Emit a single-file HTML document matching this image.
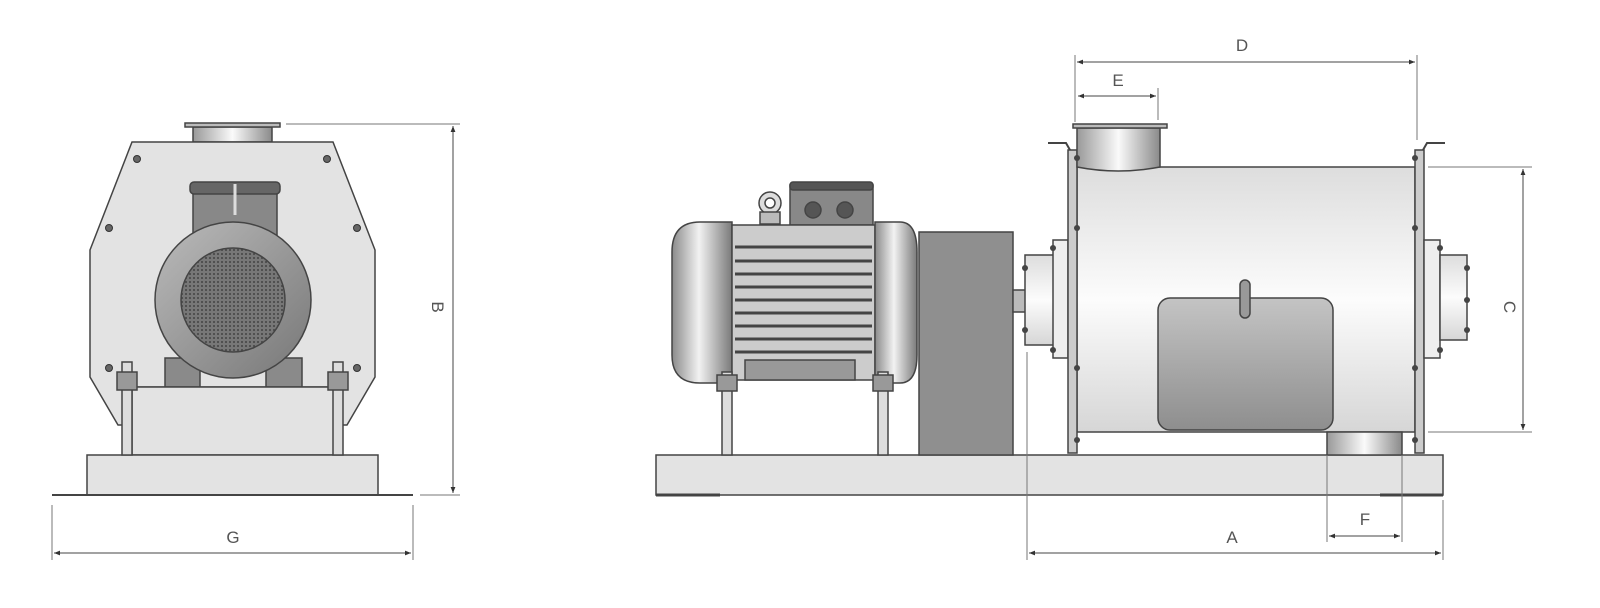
<!DOCTYPE html>
<html><head><meta charset="utf-8"><style>
html,body{margin:0;padding:0;background:#fff;width:1600px;height:608px;overflow:hidden}
text{font-family:"Liberation Sans",sans-serif;fill:#555;font-size:17px}
</style></head><body>
<svg width="1600" height="608" viewBox="0 0 1600 608" xmlns="http://www.w3.org/2000/svg">
<defs>
<linearGradient id="cyl" x1="0" y1="0" x2="1" y2="0">
<stop offset="0" stop-color="#999"/><stop offset="0.5" stop-color="#fafafa"/><stop offset="1" stop-color="#8a8a8a"/></linearGradient>
<linearGradient id="vert" x1="0" y1="0" x2="0" y2="1">
<stop offset="0" stop-color="#ddd"/><stop offset="0.5" stop-color="#fcfcfc"/><stop offset="1" stop-color="#d6d6d6"/></linearGradient>
<linearGradient id="cap" x1="0" y1="0" x2="1" y2="0">
<stop offset="0" stop-color="#8a8a8a"/><stop offset="0.45" stop-color="#f2f2f2"/><stop offset="1" stop-color="#7a7a7a"/></linearGradient>
<linearGradient id="box" x1="0" y1="0" x2="0" y2="1">
<stop offset="0" stop-color="#c4c4c4"/><stop offset="1" stop-color="#8e8e8e"/></linearGradient>
<linearGradient id="ring" x1="0" y1="0" x2="1" y2="1">
<stop offset="0" stop-color="#bbb"/><stop offset="1" stop-color="#777"/></linearGradient>
<pattern id="grid" width="4" height="4" patternUnits="userSpaceOnUse">
<rect width="4" height="4" fill="#777"/><circle cx="2" cy="2" r="1" fill="#444"/></pattern>
<marker id="ar" viewBox="0 0 10 10" refX="10" refY="5" markerWidth="8" markerHeight="6" orient="auto-start-reverse">
<path d="M0,1 L10,5 L0,9 z" fill="#333"/></marker>
</defs>

<!-- ========== LEFT VIEW ========== -->
<g stroke="#444" stroke-width="1.5">
<!-- flange -->
<rect x="193" y="127" width="79" height="15" fill="url(#cyl)"/>
<rect x="185" y="123" width="95" height="4" fill="#bbb"/>
<!-- housing -->
<polygon points="132,142 333,142 375,250 375,377 347,425 118,425 90,377 90,250" fill="#e3e3e3"/>
<line x1="118" y1="387" x2="347" y2="387"/>
<!-- terminal box -->
<rect x="193" y="185" width="84" height="60" fill="#888"/>
<rect x="190" y="182" width="90" height="12" rx="4" fill="#666"/>
<line x1="235" y1="184" x2="235" y2="215" stroke="#ddd" stroke-width="3"/>
<!-- feet -->
<rect x="165" y="358" width="35" height="29" fill="#8a8a8a"/>
<rect x="266" y="358" width="36" height="29" fill="#8a8a8a"/>
<!-- motor -->
<circle cx="233" cy="300" r="78" fill="url(#ring)"/>
<circle cx="233" cy="300" r="52" fill="url(#grid)"/>
<!-- inner box -->
<rect x="132" y="387" width="203" height="68" fill="#e3e3e3"/>
<!-- base -->
<rect x="87" y="455" width="291" height="40" fill="#e3e3e3"/>
<line x1="52" y1="495" x2="413" y2="495" stroke-width="2"/>
<!-- bolts -->
<rect x="122" y="362" width="10" height="93" fill="#ddd"/>
<rect x="333" y="362" width="10" height="93" fill="#ddd"/>
<rect x="117" y="372" width="20" height="18" fill="#999"/>
<rect x="328" y="372" width="20" height="18" fill="#999"/>
</g>
<g fill="#666" stroke="#333" stroke-width="1">
<circle cx="137" cy="159" r="3.5"/><circle cx="327" cy="159" r="3.5"/>
<circle cx="109" cy="228" r="3.5"/><circle cx="357" cy="228" r="3.5"/>
<circle cx="109" cy="368" r="3.5"/><circle cx="357" cy="368" r="3.5"/>
</g>

<!-- left dims -->
<g stroke="#777" stroke-width="1" fill="none">
<line x1="286" y1="124" x2="460" y2="124"/>
<line x1="420" y1="495" x2="460" y2="495"/>
<line x1="453" y1="126" x2="453" y2="493" stroke="#444" marker-start="url(#ar)" marker-end="url(#ar)"/>
<line x1="52" y1="505" x2="52" y2="560"/>
<line x1="413" y1="505" x2="413" y2="560"/>
<line x1="54" y1="553" x2="411" y2="553" stroke="#444" marker-start="url(#ar)" marker-end="url(#ar)"/>
</g>
<text x="233" y="543" text-anchor="middle">G</text>
<text x="0" y="0" text-anchor="middle" transform="translate(432,307) rotate(90)">B</text>

<!-- ========== RIGHT VIEW ========== -->
<g stroke="#444" stroke-width="1.5">
<!-- base -->
<rect x="656" y="455" width="787" height="40" fill="#e3e3e3"/>
<line x1="656" y1="495" x2="720" y2="495" stroke-width="3"/>
<line x1="1380" y1="495" x2="1443" y2="495" stroke-width="3"/>
<!-- motor -->
<rect x="790" y="185" width="83" height="40" fill="#888"/>
<rect x="790" y="182" width="83" height="8" rx="3" fill="#555"/>
<circle cx="813" cy="210" r="8" fill="#555"/><circle cx="845" cy="210" r="8" fill="#555"/>
<circle cx="770" cy="203" r="11" fill="#ddd"/><circle cx="770" cy="203" r="5" fill="#fff"/>
<rect x="760" y="212" width="20" height="12" fill="#bbb"/>
<path d="M732,222 L700,222 Q672,222 672,252 L672,355 Q672,383 700,383 L732,383 Z" fill="url(#cap)"/>
<rect x="732" y="225" width="143" height="155" fill="#ccc"/>
<path d="M875,222 L900,222 Q917,222 917,252 L917,355 Q917,383 900,383 L875,383 Z" fill="url(#cap)"/>
<rect x="745" y="360" width="110" height="20" fill="#999"/>
<!-- bolts -->
<rect x="722" y="372" width="10" height="83" fill="#ddd"/>
<rect x="878" y="372" width="10" height="83" fill="#ddd"/>
<rect x="717" y="375" width="20" height="16" fill="#999"/>
<rect x="873" y="375" width="20" height="16" fill="#999"/>
<!-- guard -->
<rect x="919" y="232" width="94" height="223" fill="#8f8f8f"/>
<!-- shaft & coupling -->
<rect x="1013" y="290" width="14" height="22" fill="#bbb"/>
<rect x="1025" y="255" width="30" height="90" fill="url(#vert)"/>
<rect x="1053" y="240" width="15" height="118" fill="#eee"/>
<!-- housing -->
<rect x="1077" y="167" width="338" height="265" fill="url(#vert)"/>
<rect x="1068" y="150" width="9" height="303" fill="#ccc"/>
<rect x="1415" y="150" width="9" height="303" fill="#ccc"/>
<path d="M1048,143 L1066,143 L1070,150" fill="none" stroke-width="2"/>
<path d="M1445,143 L1427,143 L1423,150" fill="none" stroke-width="2"/>
<!-- inlet -->
<path d="M1077,128 L1160,128 L1160,167 Q1118,175 1077,167 Z" fill="url(#cyl)"/>
<rect x="1073" y="124" width="94" height="4" fill="#bbb"/>
<!-- right flange -->
<rect x="1424" y="240" width="16" height="118" fill="#eee"/>
<rect x="1440" y="255" width="27" height="85" fill="url(#vert)"/>
<!-- inner box -->
<rect x="1158" y="298" width="175" height="132" rx="12" fill="url(#box)"/>
<rect x="1240" y="280" width="10" height="38" rx="5" fill="#999"/>
<!-- outlet -->
<rect x="1327" y="432" width="75" height="23" fill="url(#cyl)"/>
</g>
<!-- fins -->
<g stroke="#444" stroke-width="3">
<line x1="735" y1="247" x2="872" y2="247"/><line x1="735" y1="261" x2="872" y2="261"/>
<line x1="735" y1="274" x2="872" y2="274"/><line x1="735" y1="287" x2="872" y2="287"/>
<line x1="735" y1="300" x2="872" y2="300"/><line x1="735" y1="313" x2="872" y2="313"/>
<line x1="735" y1="326" x2="872" y2="326"/><line x1="735" y1="339" x2="872" y2="339"/>
<line x1="735" y1="352" x2="872" y2="352"/>
</g>
<g fill="#444">
<circle cx="1077" cy="158" r="3"/><circle cx="1077" cy="228" r="3"/><circle cx="1077" cy="368" r="3"/><circle cx="1077" cy="440" r="3"/>
<circle cx="1415" cy="158" r="3"/><circle cx="1415" cy="228" r="3"/><circle cx="1415" cy="368" r="3"/><circle cx="1415" cy="440" r="3"/>
<circle cx="1025" cy="268" r="3"/><circle cx="1025" cy="330" r="3"/><circle cx="1053" cy="248" r="3"/><circle cx="1053" cy="350" r="3"/>
<circle cx="1467" cy="268" r="3"/><circle cx="1467" cy="300" r="3"/><circle cx="1467" cy="330" r="3"/><circle cx="1440" cy="248" r="3"/><circle cx="1440" cy="350" r="3"/>
</g>

<!-- right dims -->
<g stroke="#777" stroke-width="1" fill="none">
<line x1="1075" y1="55" x2="1075" y2="122"/>
<line x1="1158" y1="88" x2="1158" y2="120"/>
<line x1="1417" y1="55" x2="1417" y2="140"/>
<line x1="1077" y1="62" x2="1415" y2="62" stroke="#444" marker-start="url(#ar)" marker-end="url(#ar)"/>
<line x1="1078" y1="96" x2="1156" y2="96" stroke="#444" marker-start="url(#ar)" marker-end="url(#ar)"/>
<line x1="1428" y1="167" x2="1532" y2="167"/>
<line x1="1428" y1="432" x2="1532" y2="432"/>
<line x1="1523" y1="169" x2="1523" y2="430" stroke="#444" marker-start="url(#ar)" marker-end="url(#ar)"/>
<line x1="1027" y1="352" x2="1027" y2="560"/>
<line x1="1443" y1="500" x2="1443" y2="560"/>
<line x1="1029" y1="553" x2="1441" y2="553" stroke="#444" marker-start="url(#ar)" marker-end="url(#ar)"/>
<line x1="1327" y1="455" x2="1327" y2="542"/>
<line x1="1402" y1="455" x2="1402" y2="542"/>
<line x1="1329" y1="536" x2="1400" y2="536" stroke="#444" marker-start="url(#ar)" marker-end="url(#ar)"/>
</g>
<text x="1242" y="51" text-anchor="middle">D</text>
<text x="1118" y="86" text-anchor="middle">E</text>
<text x="1232" y="543" text-anchor="middle">A</text>
<text x="1365" y="525" text-anchor="middle">F</text>
<text x="0" y="0" text-anchor="middle" transform="translate(1504,307) rotate(90)">C</text>
</svg>
</body></html>
